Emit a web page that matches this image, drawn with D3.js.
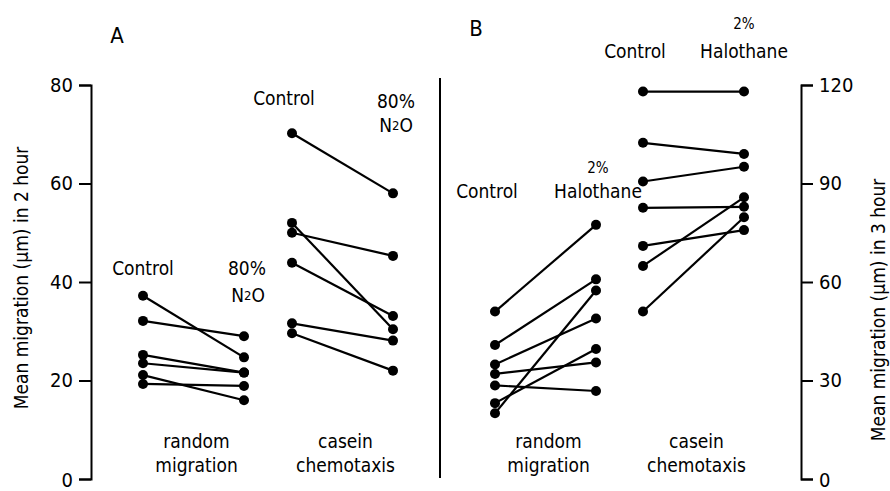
<!DOCTYPE html>
<html><head><meta charset="utf-8">
<script src="https://cdn.jsdelivr.net/npm/d3@7"></script>
<style>
html,body{margin:0;padding:0;background:#fff;}
text{font-family:"DejaVu Sans Condensed","DejaVu Sans",sans-serif;fill:#000;}
</style></head>
<body>
<svg id="c" width="890" height="491"></svg>
<script>
// ---- data ----
const groups = ["A-random","A-casein","B-random","B-casein"];
const conditions = ["Control","Treated"];
const leftTicks = [0,20,40,60,80];
const rightTicks = [0,30,60,90,120];
const aRandomControl = [37.2, 32.1, 25.2, 23.5, 21.1, 19.3];
const aRandomN2O     = [24.7, 29.0, 21.6, 21.6, 16.0, 18.9];
const aCaseinControl = [70.2, 52.0, 50.0, 43.9, 31.6, 29.6];
const aCaseinN2O     = [58.0, 30.4, 45.3, 33.1, 28.1, 22.0];
const bRandomControl   = [51.0, 40.8, 34.9, 32.0, 28.5, 23.1, 20.0];
const bRandomHalothane = [77.4, 60.8, 48.9, 35.5, 26.8, 39.6, 57.4];
const bCaseinControl   = [118, 102.4, 90.6, 82.6, 71.0, 64.9, 51.0];
const bCaseinHalothane = [118, 99.0, 95.1, 82.9, 75.8, 85.8, 79.7];
const categoryLabels = [["random","migration"],["casein","chemotaxis"],["random","migration"],["casein","chemotaxis"]];

const svg = d3.select("#c");
const yA = d3.scaleLinear().domain([0,80]).range([479,85]);
const yB = d3.scaleLinear().domain([0,120]).range([479,85]);
const gx = d3.scaleOrdinal().domain(groups).range([143,292,495,643]);
const cx = d3.scalePoint().domain(conditions).range([0,101]);

const series = [
  {g:"A-random", y:yA, c:aRandomControl, t:aRandomN2O},
  {g:"A-casein", y:yA, c:aCaseinControl, t:aCaseinN2O},
  {g:"B-random", y:yB, c:bRandomControl, t:bRandomHalothane},
  {g:"B-casein", y:yB, c:bCaseinControl, t:bCaseinHalothane}
];

// axes
const la = svg.append("g").attr("transform","translate(91,0)")
  .call(d3.axisLeft(yA).tickValues(leftTicks).tickSize(12).tickPadding(6));
const ra = svg.append("g").attr("transform","translate(801,0)")
  .call(d3.axisRight(yB).tickValues(rightTicks).tickSize(12).tickPadding(6));
[la,ra].forEach(a=>{
  a.selectAll("path,line").attr("stroke","#000").attr("stroke-width",2);
  a.selectAll("text").style("font-size","20px").attr("font-family",null)
    .attr("dy",d=>d===0?"0.38em":"0.32em");
});

// divider
svg.append("line").attr("x1",440).attr("x2",440).attr("y1",78).attr("y2",478)
  .attr("stroke","#000").attr("stroke-width",2);

// lines and points
series.forEach(s=>{
  const x0 = gx(s.g)+cx("Control"), x1 = gx(s.g)+cx("Treated");
  const g = svg.append("g");
  s.c.forEach((v,i)=>{
    g.append("line").attr("x1",x0).attr("y1",s.y(v)).attr("x2",x1).attr("y2",s.y(s.t[i]))
      .attr("stroke","#000").attr("stroke-width",2.2);
  });
  g.selectAll("circle.c").data(s.c).join("circle").attr("cx",x0).attr("cy",d=>s.y(d)).attr("r",5);
  g.selectAll("circle.t").data(s.t).join("circle").attr("cx",x1).attr("cy",d=>s.y(d)).attr("r",5);
});

// category labels
groups.forEach((g,i)=>{
  const mid = gx(g)+50.5+3;
  const t = svg.append("text").attr("text-anchor","middle").style("font-size","19px");
  t.append("tspan").attr("x",mid).attr("y",448).text(categoryLabels[i][0]);
  t.append("tspan").attr("x",mid).attr("y",472).text(categoryLabels[i][1]);
});

// condition labels
function lab(x,y,txt,size){
  return svg.append("text").attr("x",x).attr("y",y).attr("text-anchor","middle")
    .style("font-size",(size||19)+"px").text(txt);
}
function n2o(x,y){
  const t = svg.append("text").attr("x",x).attr("y",y).attr("text-anchor","middle").style("font-size","19px");
  t.append("tspan").text("N");
  t.append("tspan").style("font-size","13px").attr("dy",-2).text("2");
  t.append("tspan").attr("dy",2).text("O");
}
const ax = gx("A-random"), bx = gx("A-casein"), cxr = gx("B-random"), dx = gx("B-casein");
lab(ax+cx("Control"),275,"Control");
lab(ax+cx("Treated")+3,275,"80%");
n2o(ax+cx("Treated")+4,302);
lab(bx+cx("Control")-8,105,"Control");
lab(bx+cx("Treated")+3,108,"80%");
n2o(bx+cx("Treated")+3,132);
lab(cxr+cx("Control")-8,198,"Control");
lab(cxr+cx("Treated")+2,173,"2%",15);
lab(cxr+cx("Treated")+2,198,"Halothane");
lab(dx+cx("Control")-8,58,"Control");
lab(dx+cx("Treated"),29,"2%",15);
lab(dx+cx("Treated"),58,"Halothane");

// panel letters
svg.append("text").attr("x",117).attr("y",43).attr("text-anchor","middle").style("font-size","22px").text("A");
svg.append("text").attr("x",476).attr("y",36).attr("text-anchor","middle").style("font-size","22px").text("B");

// y axis titles
svg.append("text").attr("transform","translate(28,278) rotate(-90)").attr("text-anchor","middle")
  .style("font-size","19px").text("Mean migration (µm) in 2 hour");
svg.append("text").attr("transform","translate(885,310) rotate(-90)").attr("text-anchor","middle")
  .style("font-size","19px").text("Mean migration (µm) in 3 hour");
</script>
</body></html>
